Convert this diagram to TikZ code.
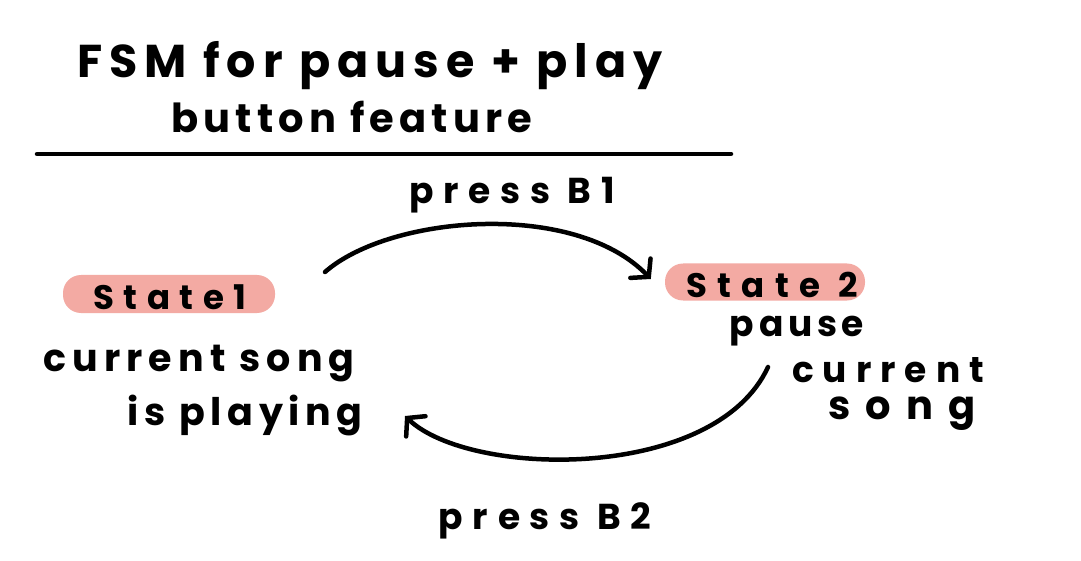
\documentclass[tikz,border=0pt]{standalone}
\usepackage{fontspec}
\setmainfont{Poppins}
\usetikzlibrary{arrows.meta}
\definecolor{hlpink}{HTML}{F3AAA3}
\newcommand{\hw}[2]{\fontsize{#1}{#1}\selectfont\bfseries\addfontfeature{LetterSpace=#2}}
\tikzset{
  ink/.style={line width=4.5pt, line cap=round, draw=black},
  arr/.style={ink, -{Straight Barb[length=12pt,width=28pt,line cap=round]}},
  hl/.style={fill=hlpink, rounded corners=18pt, inner sep=0pt},
  txt/.style={inner sep=0pt, anchor=center}
}
\begin{document}
\begin{tikzpicture}[x=1pt,y=-1pt]
\useasboundingbox[fill=white] (0,0) rectangle (1081,561);
% title
\node[txt, font=\hw{46}{15}] (t1) at (370,66) {FSM for pause + play};
\node[txt, font=\hw{40}{13}] (t2) at (352,117) {button feature};
\coordinate (rl) at (37,154);
\coordinate (rr) at (731,154);
\draw[ink] (rl) -- (rr);
% states
\node[hl, minimum width=212pt, minimum height=38pt] (s1) at (169,294) {};
\node[txt, font=\hw{34}{28}] (s1t) at (170,297) {State1};
\node[hl, minimum width=200pt, minimum height=37pt] (s2) at (765,282) {};
\node[txt, font=\hw{34}{31}] (s2t) at (772,285) {State 2};
% descriptions
\node[txt, font=\hw{38}{16}] (d1a) at (199,364) {current song};
\node[txt, font=\hw{38}{15}] (d1b) at (245,416) {is playing};
\node[txt, font=\hw{36}{13}] (d2a) at (797,331) {pause};
\node[txt, font=\hw{36}{25}] (d2b) at (888,370) {current};
\node[txt, font=\hw{40}{38}] (d2c) at (902,414) {song};
% labels
\node[txt, font=\hw{36}{27}] (l1) at (512,195) {press B1};
\node[txt, font=\hw{36}{27}] (l2) at (545,521) {press B2};
% transitions
\coordinate (a1s) at (325,272);
\coordinate (a1e) at ([xshift=-14pt,yshift=3pt]s2.west);
\draw[arr] (a1s) .. controls (390,215) and (575,200) .. (a1e);
\coordinate (a2s) at (768,367);
\coordinate (a2e) at (405,416);
\draw[arr] (a2s) .. controls (715,482) and (470,478) .. (a2e);
\end{tikzpicture}
\end{document}
